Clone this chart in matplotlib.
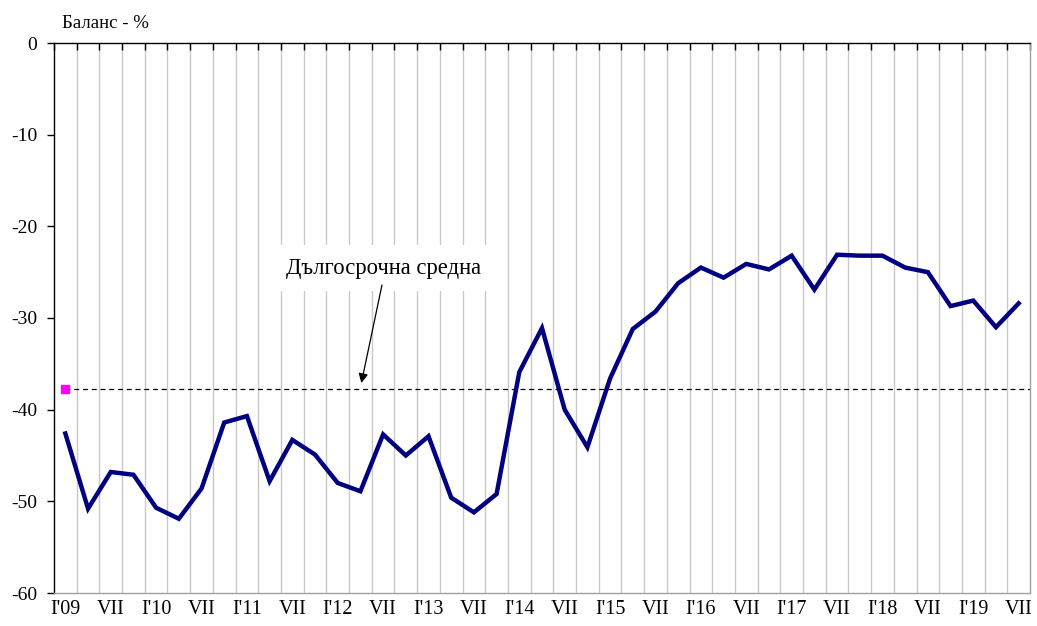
import matplotlib
matplotlib.use("Agg")
import matplotlib.pyplot as plt
import numpy as np
from matplotlib.ticker import FixedLocator

plt.rcParams['font.family'] = ['Liberation Serif', 'DejaVu Serif']

# quarterly periods I'09 ... VII'19
years = list(range(2009, 2020))
quarter_labels = []
for y in years:
    for q in ["I", "IV", "VII", "X"]:
        quarter_labels.append((q, y))
quarter_labels = quarter_labels[:43]

balance = [-42.6, -50.8, -46.8, -47.1, -50.7, -51.9, -48.6, -41.4, -40.7, -47.8,
           -43.3, -44.9, -48.0, -48.9, -42.7, -45.0, -42.9, -49.6, -51.2, -49.2,
           -35.9, -31.1, -40.0, -44.1, -36.6, -31.2, -29.3, -26.2, -24.5, -25.6,
           -24.1, -24.7, -23.2, -26.9, -23.1, -23.2, -23.2, -24.5, -25.0, -28.7,
           -28.1, -31.0, -28.4]
long_term_avg = -37.8

y_ticks = [0, -10, -20, -30, -40, -50, -60]

def label_for(q, y):
    if q == "I":
        return "I'%02d" % (y % 100)
    if q == "VII":
        return "VII"
    return ""

tick_labels = [label_for(q, y) for q, y in quarter_labels]

fig = plt.figure(figsize=(10.37, 6.26), dpi=100)
ax = fig.add_axes([54/1037, 1-593/626, (1030-54)/1037, (593-43)/626])

n = len(balance)
x = np.arange(n)

# grid at category boundaries
bounds = np.arange(0.5, n - 0.5, 1.0)
for b in bounds:
    ax.axvline(b, color='#c8c8c8', lw=1.0, zorder=1)

# long-term average
ax.plot([0, n - 0.5], [long_term_avg, long_term_avg], color='black', lw=0.9,
        dashes=(4, 3), zorder=2)
ax.plot([0], [long_term_avg], marker='s', color='#ff00ff', markersize=5.5,
        linestyle='none', zorder=4)

ax.plot(x, balance, color='#000080', lw=3.2, zorder=3, solid_joinstyle='miter')

ax.set_xlim(-0.5, n - 0.5)
ax.set_ylim(-60, 0)

# x labels
sel = [i for i, t in enumerate(tick_labels) if t]
ax.set_xticks(sel)
ax.set_xticklabels([tick_labels[i] for i in sel], fontsize=14.5)
ax.tick_params(axis='x', which='major', length=0, pad=5)
ax.xaxis.set_minor_locator(FixedLocator(list(np.arange(-0.5, n, 1.0))))
ax.tick_params(axis='x', which='minor', top=True, bottom=False, direction='in',
               length=5, width=1.0, color='black')

ax.set_yticks(y_ticks)
ax.set_yticklabels([str(v) for v in y_ticks], fontsize=14)
ax.tick_params(axis='y', direction='out', length=5, width=1.0, pad=7)

for s in ['bottom', 'right']:
    ax.spines[s].set_color('#a0a0a0')
    ax.spines[s].set_linewidth(1.0)
for s in ['top', 'left']:
    ax.spines[s].set_color('black')
    ax.spines[s].set_linewidth(1.0)

fig.text(62/1037, 1-24/626, "Баланс - %", fontsize=13.5, ha='left', va='center')

ax.text(14.0, -24.55, "Дългосрочна средна", fontsize=16.3, ha='center', va='center',
        zorder=5, bbox=dict(boxstyle='square,pad=0.55', fc='white', ec='none'))
ax.annotate('', xy=(13.04, -37.1), xytext=(13.95, -26.4),
            arrowprops=dict(arrowstyle='-|>', color='black', lw=0.9,
                            mutation_scale=14, shrinkA=0, shrinkB=0),
            zorder=5)

fig.savefig("out.png", dpi=100)
